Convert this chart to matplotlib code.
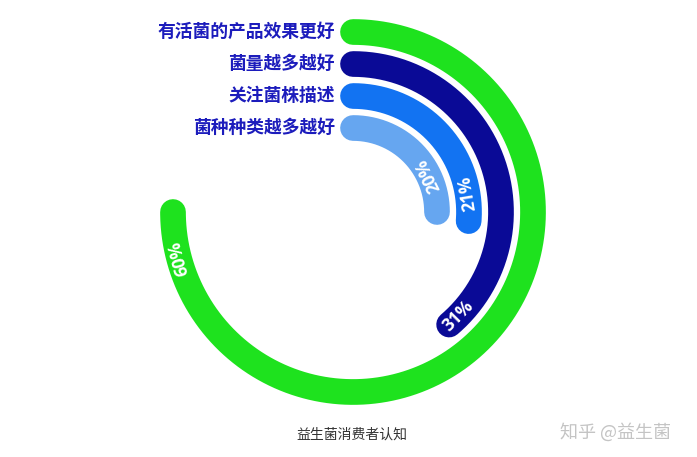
import numpy as np
import matplotlib
matplotlib.use('Agg')
import matplotlib.pyplot as plt

# data
categories = ['有活菌的产品效果更好', '菌量越多越好', '关注菌株描述', '菌种种类越多越好']
values = [60, 31, 21, 20]
value_labels = ['60%', '31%', '21%', '20%']
scale_max = 80  # full circle = 80%

# style
colors = ['#1ee21e', '#0a0a96', '#1273f2', '#66a6f0']
radii = [180, 148, 116, 84]
label_angles = [255, 134.5, 80.5, 64]  # where the % text sits (deg, clockwise from top)

plt.rcParams['font.family'] = ['Noto Sans CJK SC', 'DejaVu Sans']

fig = plt.figure(figsize=(6.97, 4.57), dpi=100)
R = 220
cx, cy = 353, 457 - 212
ax = fig.add_axes([(cx - R) / 697, (cy - R) / 457, 2 * R / 697, 2 * R / 457], projection='polar')
ax.set_theta_zero_location('N')
ax.set_theta_direction(-1)
ax.set_ylim(0, R)
ax.axis('off')

for cat, val, lab, col, r, la in zip(categories, values, value_labels, colors, radii, label_angles):
    end = val / scale_max * 2 * np.pi
    th = np.linspace(0, end, 300)
    ax.plot(th, np.full_like(th, r), color=col, lw=18.5, solid_capstyle='round', clip_on=False)
    ax.annotate(cat, xy=(0, r), xytext=(-13, 0), textcoords='offset points',
                ha='right', va='center', fontsize=12.8, fontweight='bold', color='#1c1cbc')
    rot = 180 - la if la < 180 else 360 - la
    ax.text(np.deg2rad(la), r, lab, rotation=rot, rotation_mode='anchor',
            ha='center', va='center', fontsize=12.5, fontweight='bold', color='white',
            family=['Open Sans', 'DejaVu Sans'])

fig.text(352 / 697, 1 - 435 / 457, '益生菌消费者认知', ha='center', va='center',
         fontsize=10, color='#333333')
fig.text(615 / 697, 1 - 432 / 457, '知乎 @益生菌', ha='center', va='center',
         fontsize=13, color='#c4c4c4')

fig.savefig('out.png', dpi=100)
